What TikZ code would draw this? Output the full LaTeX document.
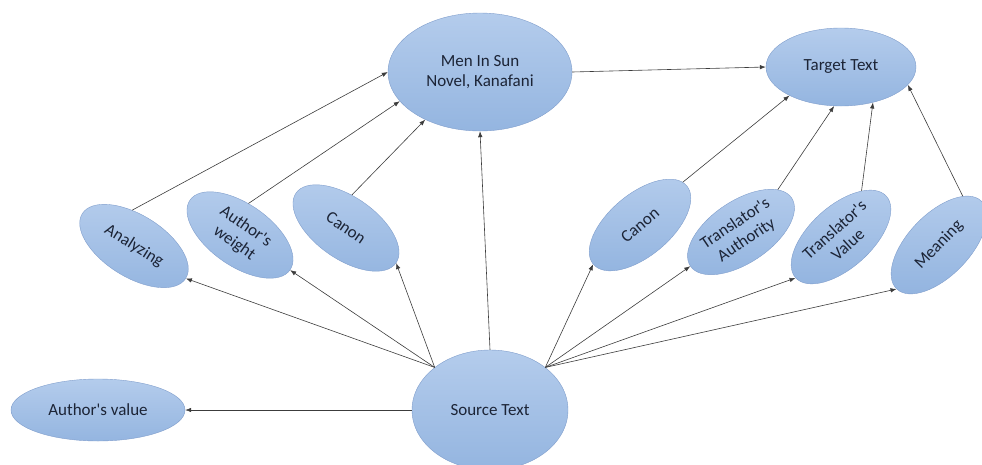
\documentclass[tikz,border=0pt]{standalone}
\usepackage{fontspec}
\setmainfont{Carlito}
\usepackage{tikz}
\usetikzlibrary{shapes.geometric,arrows.meta}
\definecolor{ellTop}{RGB}{180,204,236}
\definecolor{ellBot}{RGB}{148,181,224}
\definecolor{ellEdge}{RGB}{128,158,204}
\definecolor{ellText}{RGB}{28,36,54}
\definecolor{lineGray}{RGB}{60,60,60}

\begin{document}
\begin{tikzpicture}[
    x=1pt, y=-1pt,
    >={Latex[length=6pt,width=4.5pt]},
    every edge/.style={->, draw=lineGray, line width=0.6pt},
    every node/.style={ellipse, draw=ellEdge, top color=ellTop, bottom color=ellBot,
text=ellText, font=\fontsize{17}{20}\selectfont, align=center, inner sep=1pt},
    sat/.style={minimum width=122pt, minimum height=62pt}]

    \useasboundingbox (0,0) rectangle (982,464);

    % centre of the picture
    \node[minimum width=184pt, minimum height=118pt] (men) at (480,72) {Men In Sun\\Novel, Kanafani};
    \node[minimum width=150pt, minimum height=78pt] (tgt) at (841,67) {Target Text};
    \node[minimum width=156pt, minimum height=120pt] (src) at (490,410) {Source Text};
    \node[minimum width=174pt, minimum height=62pt] (av) at (98,410) {Author\textquotesingle s value};

    % left side, towards the novel
    \node[sat, rotate=-32] (ana) at (134,246) {Analyzing};
    \node[sat, rotate=-35] (aw) at (240,235) {Author\textquotesingle s\\weight};
    \node[sat, rotate=-35] (canl) at (346,228) {Canon};

    % right side, towards the target
    \node[sat, rotate=40] (canr) at (640,225) {Canon};
    \node[sat, rotate=34] (ta) at (741,232) {Translator\textquotesingle s\\Authority};
    \node[sat, rotate=42] (tv) at (841,237) {Translator\textquotesingle s\\Value};
    \node[sat, rotate=46] (mean) at (939,245) {Meaning};

    \draw (src.west) edge (av.east);
    \draw (src.north) edge (men.south);
    \draw (src.north west) edge (ana.east) edge (aw.east) edge (canl.east);
    \draw (src.north east) edge (canr.west) edge (ta.west) edge (tv.west) edge (mean.west);

    \draw (ana.125) edge (men.west);
    \draw (aw.110) edge (men.200);
    \draw (canl.115) edge (men.221);
    \draw (men.east) edge (tgt.west);

    \draw (canr.5) edge (tgt.209);
    \draw (ta.15) edge (tgt.260);
    \draw (tv.24) edge (tgt.312);
    \draw (mean.18) edge (tgt.345);

\end{tikzpicture}
\end{document}
